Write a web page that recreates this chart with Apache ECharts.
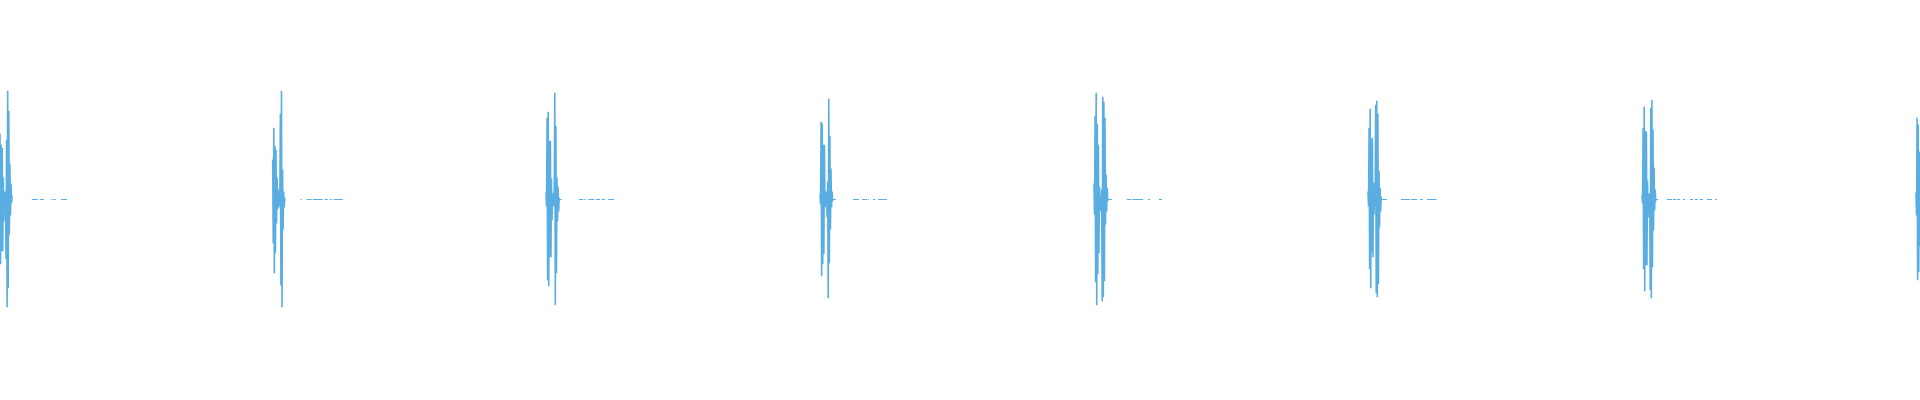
<!DOCTYPE html>
<html>
<head>
<meta charset="utf-8">
<title>Waveform</title>
<script src="https://cdn.jsdelivr.net/npm/echarts@6/dist/echarts.min.js"></script>
<style>
html,body{margin:0;padding:0;background:#fff;}
#chart{width:1920px;height:400px;}
</style>
</head>
<body>
<div id="chart"></div>
<script>
// Time axis in seconds, amplitude normalised
const timeRange = [0, 7];
const ampRange = [-1, 1];
const sampleStep = 0.002; // seconds between samples inside each burst

// Onset time (s) of each beat
const beatOnsets = [-0.008, 0.9942, 1.9906, 2.9896, 3.9885, 4.9875, 5.9865, 6.9854];

// Samples of each burst
const beat1 = [0.2,-0.2,0.3,-0.3,0.33,-0.325,0.275,-0.26,0.26,-0.26,0.11,-0.11,0.04,-0.04,0.04,-0.3,0.3,-0.54,0.545,-0.445,0.445,-0.175,0.18,-0.08,0.08,-0.02,0.02];
const beat2 = [0.2,-0.22,0.36,-0.37,0.27,-0.27,0.25,-0.12,0.11,-0.05,0.05,-0.04,0.02,-0.03,0.43,-0.43,0.545,-0.54,0.15,-0.15,0.04,-0.04,0.01];
const beat3 = [0.035,-0.035,0.41,-0.405,0.44,-0.435,0.295,-0.29,0.295,-0.29,0.105,-0.105,0.03,-0.03,0.035,-0.035,0.535,-0.53,0.37,-0.37,0.11,-0.11,0.065,-0.06,0.01];
const beat4 = [0.025,-0.025,0.39,-0.385,0.38,-0.325,0.275,-0.275,0.275,-0.04,0.04,-0.035,0.04,-0.09,0.09,-0.495,0.505,-0.32,0.32,-0.15,0.155,-0.04,0.04,-0.01];
const beat5 = [0.08,-0.075,0.42,-0.415,0.535,-0.53,0.38,-0.375,0.275,-0.27,0.065,-0.06,0.02,-0.05,0.05,-0.51,0.515,-0.49,0.49,-0.41,0.41,-0.125,0.125,-0.06,0.06,-0.01];
const beat6 = [0.04,-0.035,0.36,-0.35,0.455,-0.445,0.3,-0.265,0.31,-0.29,0.085,-0.075,0.035,-0.035,0.475,-0.47,0.495,-0.49,0.43,-0.425,0.145,-0.14,0.06,-0.06,0.015];
const beat7 = [0.02,-0.02,0.36,-0.35,0.465,-0.46,0.345,-0.33,0.34,-0.33,0.095,-0.09,0.03,-0.03,0.03,-0.455,0.46,-0.495,0.5,-0.34,0.35,-0.155,0.16,-0.055,0.05,-0.01];
const beat8 = [0.035,-0.08,0.41,-0.405,0.375,-0.365,0.24,-0.235];
const beatSamples = [beat1, beat2, beat3, beat4, beat5, beat6, beat7, beat8];

// Faint tail fragments after each burst: [start, end] in ms after onset
const tail1 = [[124,146],[153,168],[173,175],[193,197],[201,211],[230,252]];
const tail2 = [[102,106],[124,142],[146,182],[190,201],[208,215],[222,255]];
const tail3 = [[47,57],[120,136],[140,145],[154,176],[182,197],[203,215],[227,248]];
const tail4 = [[47,58],[120,142],[153,171],[175,179],[193,201],[212,244]];
const tail5 = [[47,66],[120,135],[139,179],[197,204],[237,248]];
const tail6 = [[47,69],[120,153],[157,179],[190,200],[215,250]];
const tail7 = [[47,58],[91,109],[113,124],[128,139],[149,157],[175,186],[193,204],[211,222],[237,255],[266,273]];
const tail8 = [];
const beatTails = [tail1, tail2, tail3, tail4, tail5, tail6, tail7, tail8];
const tailLevel = 0;

const burstData = [];
const tailData = [];
beatOnsets.forEach((t0, b) => {
  beatSamples[b].forEach((v, i) => burstData.push([t0 + i * sampleStep, v]));
  burstData.push([t0, '-']);
  beatTails[b].forEach(seg => {
    tailData.push([t0 + seg[0] / 1000, tailLevel]);
    tailData.push([t0 + seg[1] / 1000, tailLevel]);
    tailData.push([t0 + seg[1] / 1000, '-']);
  });
});

const lineColor = '#5aade1';
const chart = echarts.init(document.getElementById('chart'), null, {renderer: 'canvas'});
chart.setOption({
  animation: false,
  backgroundColor: '#ffffff',
  grid: {left: 0, right: 0, top: 0, bottom: 1},
  xAxis: {type: 'value', min: timeRange[0], max: timeRange[1], show: false},
  yAxis: {type: 'value', min: ampRange[0], max: ampRange[1], show: false},
  series: [{
    type: 'line',
    data: burstData,
    showSymbol: false,
    symbol: 'none',
    sampling: null,
    connectNulls: false,
    lineStyle: {color: lineColor, width: 1.6, join: 'miter'},
    itemStyle: {color: lineColor}
  }, {
    type: 'line',
    data: tailData,
    showSymbol: false,
    symbol: 'none',
    sampling: null,
    connectNulls: false,
    lineStyle: {color: lineColor, width: 1},
    itemStyle: {color: lineColor}
  }]
});
</script>
</body>
</html>
